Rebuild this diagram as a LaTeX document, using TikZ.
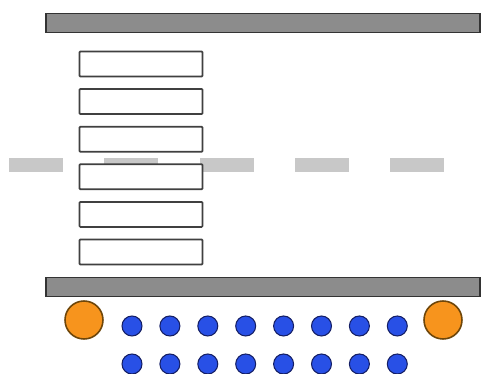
\documentclass[tikz,border=0pt]{standalone}
\usetikzlibrary{positioning}

\definecolor{barfill}{RGB}{140,140,140}
\definecolor{dashgray}{RGB}{200,200,200}
\definecolor{ionorange}{RGB}{247,148,29}
\definecolor{ionedge}{RGB}{110,70,10}
\definecolor{dotblue}{RGB}{40,80,230}
\definecolor{dotedge}{RGB}{20,30,100}

\tikzset{
  plate/.style={draw=black!80, fill=barfill, line width=0.9pt, minimum width=8.68cm, minimum height=0.38cm, inner sep=0pt},
  slab/.style={draw=black!75, fill=white, line width=1pt, rounded corners=0.5pt, minimum width=2.46cm, minimum height=0.5cm, inner sep=0pt},
  dashbar/.style={fill=dashgray, minimum width=1.08cm, minimum height=0.27cm, inner sep=0pt},
  bigion/.style={circle, draw=ionedge, fill=ionorange, line width=0.9pt, minimum size=0.76cm, inner sep=0pt},
  carrier/.style={circle, draw=dotedge, fill=dotblue, line width=0.6pt, minimum size=0.4cm, inner sep=0pt}
}

\begin{document}
\begin{tikzpicture}[x=0.02cm, y=-0.02cm]
    \useasboundingbox[fill=white] (0,0) rectangle (481,374);

    % Piastra superiore
    \node[plate] at (263, 23) (topplate) {};

    % Linea tratteggiata centrale
    \foreach \i in {0,...,4}
        \node[dashbar] at (36+95.3*\i, 165) (dash\i) {};

    % Lastre
    \foreach \i in {0,...,5}
        \node[slab] at (141, 64+37.6*\i) (slab\i) {};

    % Piastra inferiore
    \node[plate] at (263, 287) (bottomplate) {};

    % Ioni grandi
    \node[bigion] at (84, 320) (ionleft) {};
    \node[bigion] at (443, 320) (ionright) {};

    % Punti blu
    \foreach \i in {0,...,7} {
        \node[carrier] at (132+37.9*\i, 326) (upper\i) {};
        \node[carrier] at (132+37.9*\i, 364) (lower\i) {};
    }
\end{tikzpicture}
\end{document}
